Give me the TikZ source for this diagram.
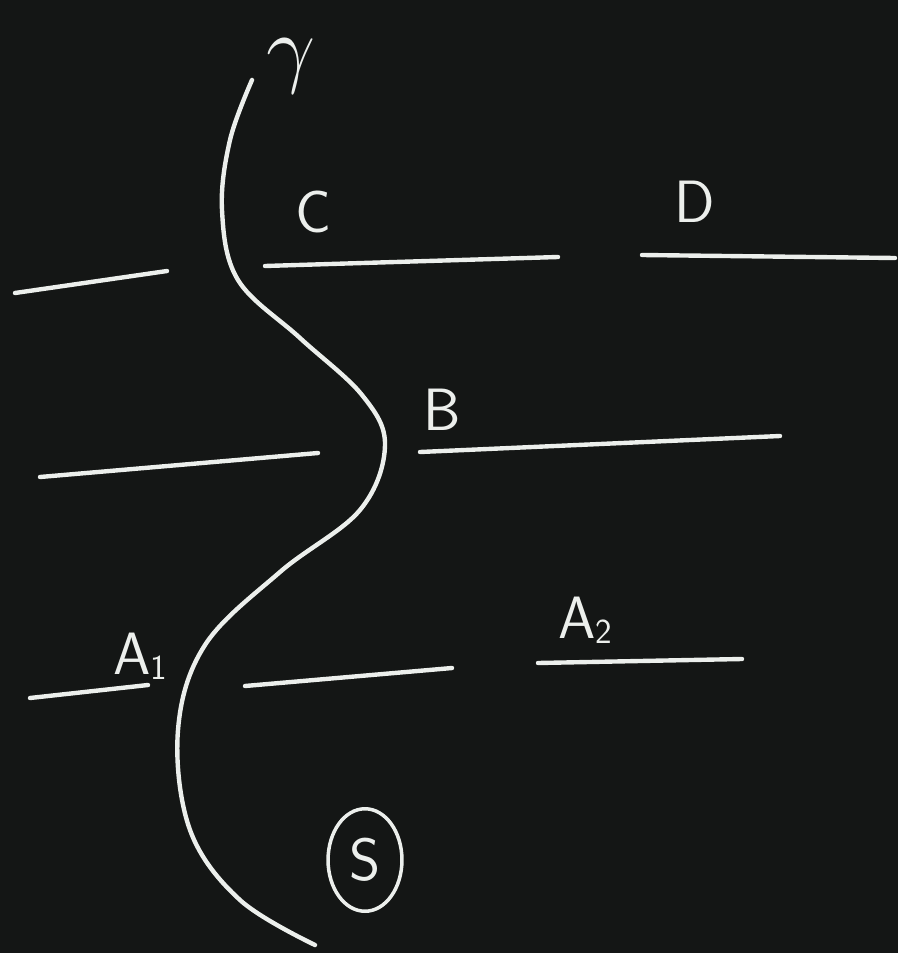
\documentclass[tikz,border=0pt]{standalone}
\usetikzlibrary{positioning,shapes.geometric}
\definecolor{Board}{HTML}{141615}
\definecolor{Chalk}{HTML}{ECEFEC}
\newcommand{\chalksub}[1]{{\fontsize{20}{22}\selectfont\raisebox{-0.35ex}{#1}}}

\begin{document}
\begin{tikzpicture}[x=0.02cm,y=-0.02cm,
      chalk/.style={Chalk,line width=2.5pt,line cap=round},
      level/.style={chalk},
      tag/.style={text=Chalk,font=\fontsize{34}{38}\selectfont\sffamily,inner sep=1pt}]
    \fill[Board] (0,0) rectangle (898,953);
    \useasboundingbox (0,0) rectangle (898,953);
    % energy levels
    \draw[level] (15,293) -- (167,271);
    \draw[level] (265,266) -- (558,257);
    \draw[level] (642,255) -- (895,258);
    \draw[level] (40,477) -- (318,453);
    \draw[level] (420,452) -- (780,436);
    \draw[level] (30,698) -- (148,685);
    \draw[level] (245,686) -- (452,668);
    \draw[level] (538,663) -- (742,659);
    % the path
    \draw[chalk] plot[smooth,tension=0.6] coordinates {(252,80) (230,140) (222,210) (238,280)
        (300,338) (362,395) (385,445) (360,510) (280,572) (205,645) (178,730)
        (190,830) (240,900) (315,945)};
    \node[tag,inner sep=0pt] (gam) at (291,66) {\scalebox{2.0}{$\gamma$}};
    \node[tag] (c) at (313,212) {C};
    \node[tag] (d) at (695,202) {D};
    \node[tag] (b) at (442,410) {B};
    \node[tag] (a1) at (140,656) {A\chalksub{1}};
    \node[tag] (a2) at (585,620) {A\chalksub{2}};
    \node[tag,draw=Chalk,line width=2pt,ellipse,inner sep=6pt,minimum width=1.4cm,minimum height=2.05cm] (s) at (365,860) {S};
  \end{tikzpicture}
\end{document}
